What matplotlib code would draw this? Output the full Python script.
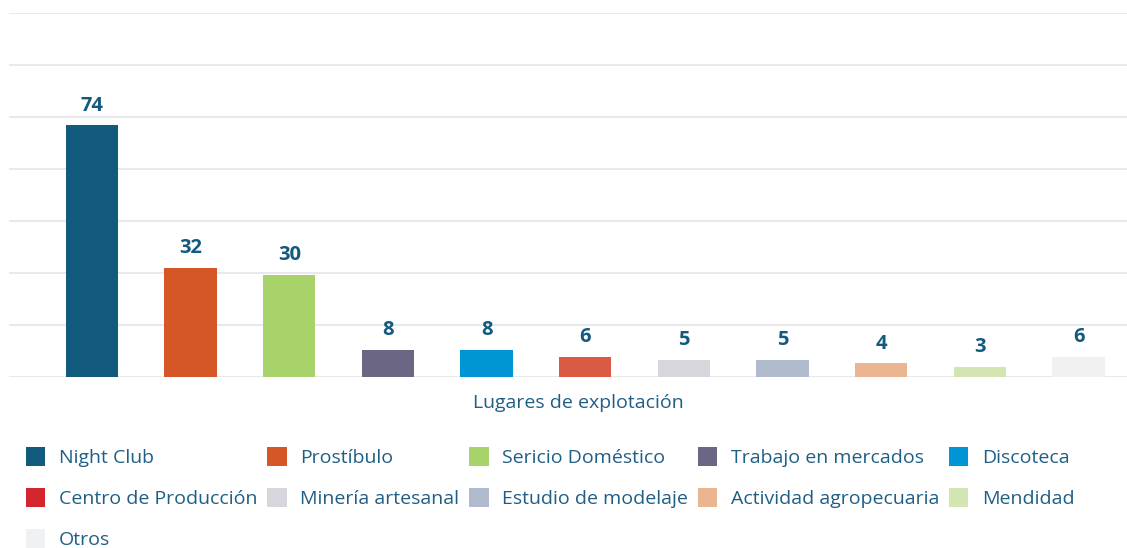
import numpy as np
import matplotlib
matplotlib.use('Agg')
import matplotlib.pyplot as plt
from matplotlib.patches import Patch

categories = ['Night Club', 'Prostíbulo', 'Sericio Doméstico', 'Trabajo en mercados',
              'Discoteca', 'Centro de Producción', 'Minería artesanal',
              'Estudio de modelaje', 'Actividad agropecuaria', 'Mendidad', 'Otros']
values = [74, 32, 30, 8, 8, 6, 5, 5, 4, 3, 6]
bar_colors = ['#135A7F', '#D55627', '#A8D26A', '#6B6684', '#0096D6', '#DA5A45',
              '#D8D6DD', '#AFBACC', '#EBB592', '#D3E6B1', '#F0F1F3']
legend_colors = ['#135A7F', '#D55627', '#A8D26A', '#6B6684', '#0096D6', '#D3252E',
                 '#D8D6DD', '#AFBACC', '#EBB592', '#D3E6B1', '#F0F1F3']

text_color = '#1F5E85'
label_color = '#135A7F'
plt.rcParams['font.family'] = ['Open Sans', 'DejaVu Sans']

fig = plt.figure(figsize=(11.27, 5.48), dpi=100)
ax = fig.add_axes([9 / 1127, 1 - 377 / 548, 1 - 9 / 1127, 364 / 548])

x = np.arange(len(values))
bars = ax.bar(x, values, width=0.53, color=bar_colors, zorder=2)
for b, v in zip(bars, values):
    ax.annotate(str(v), (b.get_x() + b.get_width() / 2, v), xytext=(0, 7),
                textcoords='offset points', ha='center', va='bottom',
                fontsize=14.5, fontweight='bold', color=label_color)

ymax = 107
ax.set_ylim(0, ymax)
ax.set_xlim(-0.84, 10.49)
ax.set_yticks(np.linspace(0, ymax, 8))
ax.set_yticklabels([])
ax.set_xticks([])
ax.tick_params(left=False, bottom=False)
ax.grid(axis='y', color='#E9E9E9', linewidth=1.5, zorder=0)
for s in ax.spines.values():
    s.set_visible(False)
ax.set_xlabel('Lugares de explotación', fontsize=14, color=text_color, labelpad=12)
ax.xaxis.label.set_x(0.509)

# legend is filled column by column, so reorder to read row by row
order = [0, 5, 10, 1, 6, 2, 7, 3, 8, 4, 9]
handles = [Patch(facecolor=legend_colors[i], edgecolor='none') for i in order]
labels = [categories[i] for i in order]
fig.legend(handles, labels, ncol=5, loc='upper left',
           bbox_to_anchor=(26 / 1127, 1 - 447 / 548), frameon=False,
           fontsize=14, labelcolor=text_color, handlelength=1.0, handleheight=1.13,
           handletextpad=0.7, columnspacing=0.5, labelspacing=1.08,
           borderpad=0, borderaxespad=0)

fig.savefig('out.png', dpi=100)
